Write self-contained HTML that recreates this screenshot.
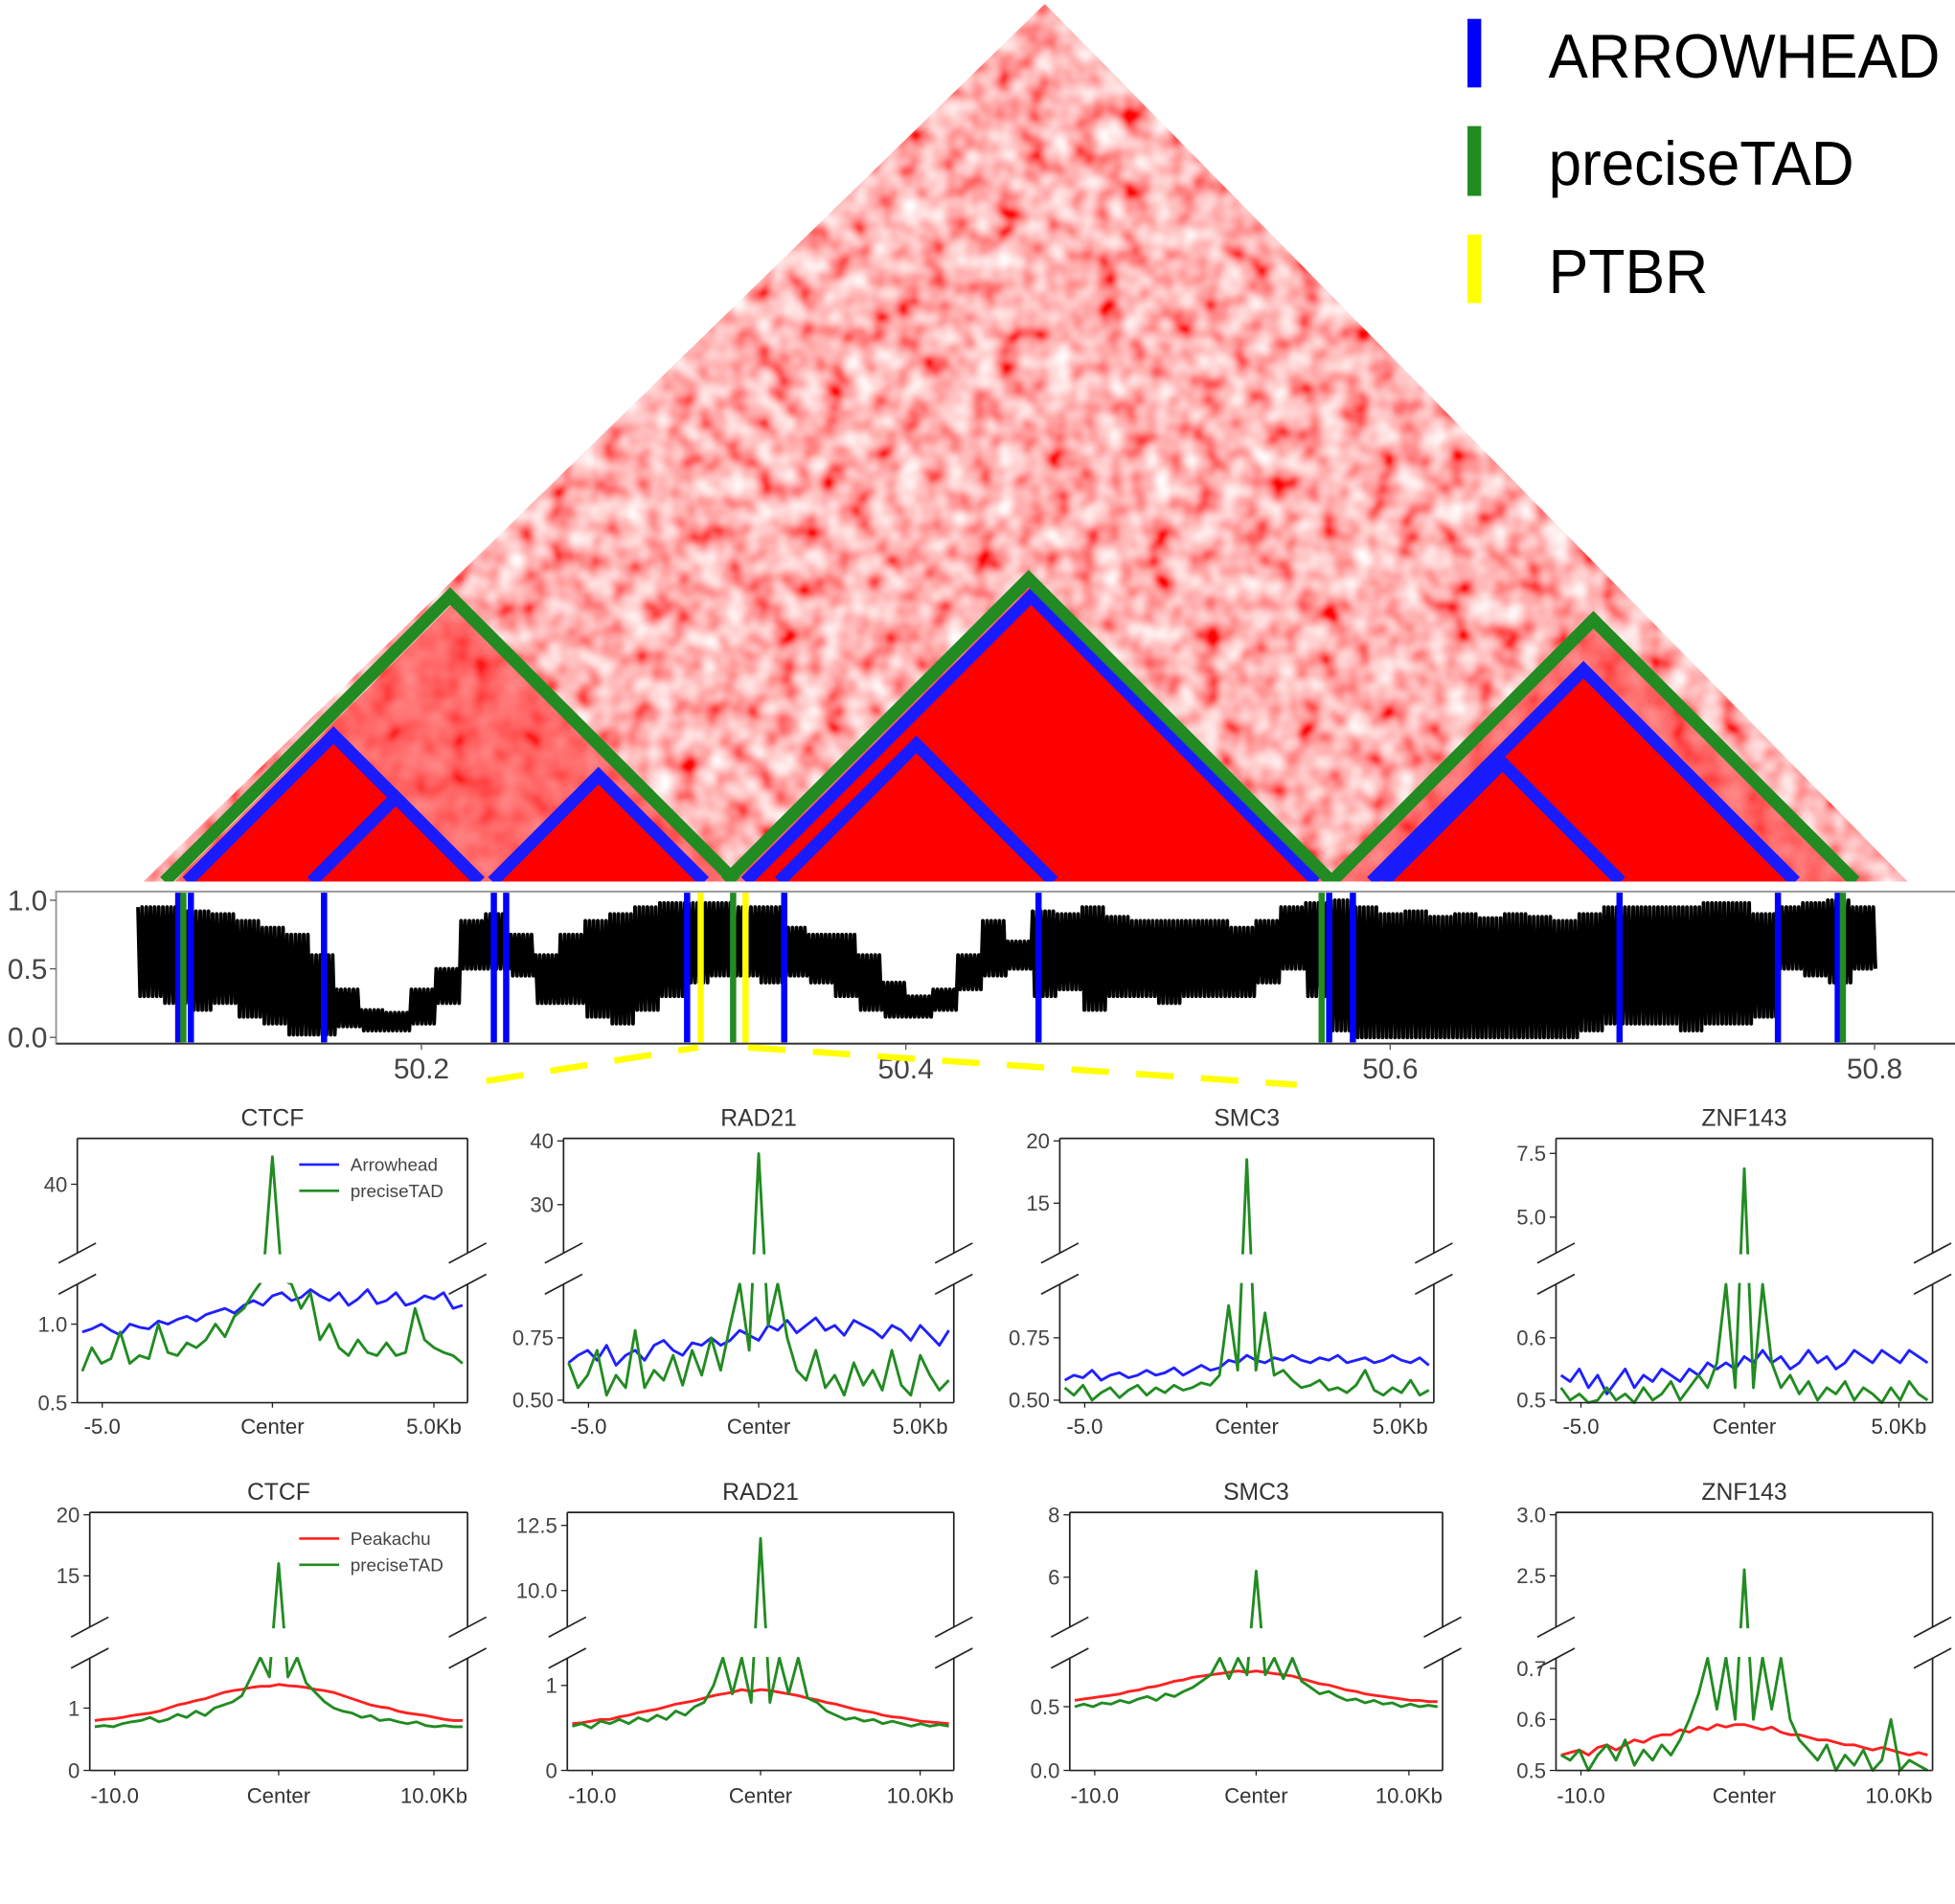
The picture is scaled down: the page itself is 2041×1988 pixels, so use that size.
<!DOCTYPE html>
<html><head><meta charset="utf-8"><style>
html,body{margin:0;padding:0;background:#fff;}
svg{display:block;font-family:"Liberation Sans","DejaVu Sans",sans-serif;}
</style></head><body>
<svg id="fig" xmlns="http://www.w3.org/2000/svg" width="2041" height="1988" viewBox="0 0 1568 1527">
<defs>
<clipPath id="triClip"><polygon points="115,707 838,3 1530,707"/></clipPath>
<filter id="noise" filterUnits="userSpaceOnUse" x="100" y="0" width="1450" height="720">
<feTurbulence type="fractalNoise" baseFrequency="0.05" numOctaves="2" seed="3" result="t"/>
<feColorMatrix in="t" type="matrix" values="0 0 0 0 1  1.5 0 0 0 -0.3  1.5 0 0 0 -0.3  0 0 0 0 1" result="c"/>
<feGaussianBlur in="c" stdDeviation="1.2"/>
</filter>
</defs>
<g id="heatmap">
<rect x="100" y="0" width="1450" height="720" filter="url(#noise)" clip-path="url(#triClip)"/>
</g>
<g id="legend">
<rect x="1177" y="15" width="11" height="55" fill="#0000ff"/>
<text x="1242" y="62" font-size="50" textLength="314" lengthAdjust="spacingAndGlyphs" fill="#000">ARROWHEAD</text>
<rect x="1177" y="101" width="11" height="56" fill="#228b22"/>
<text x="1242" y="148" font-size="50" textLength="245" lengthAdjust="spacingAndGlyphs" fill="#000">preciseTAD</text>
<rect x="1177" y="188" width="11" height="55" fill="#ffff00"/>
<text x="1242" y="235" font-size="50" textLength="128" lengthAdjust="spacingAndGlyphs" fill="#000">PTBR</text>
</g>
<g id="track"></g>
<g id="panels"></g>
</svg>
<script>
// ---- track data (genomic Mb) ----
const trackStart = 50.083;
const trackBin = 0.01026;
const sigHi = [.95,.95,.92,.9,.85,.8,.75,.6,.35,.2,.18,.35,.5,.85,.9,.75,.6,.75,.85,.9,.95,.98,.98,.98,.95,.95,.8,.75,.75,.6,.4,.3,.35,.6,.85,.7,.92,.9,.95,.88,.85,.85,.85,.85,.8,.85,.95,.98,1.0,.95,.9,.92,.88,.9,.87,.9,.88,.85,.9,.95,.95,.95,.95,.98,.98,.9,.95,.98,1.0,.95];
const sigLo = [.3,.25,.2,.25,.15,.1,.02,.02,.08,.05,.05,.1,.25,.5,.5,.45,.25,.25,.15,.1,.2,.3,.4,.45,.45,.4,.45,.4,.3,.2,.15,.15,.2,.35,.45,.5,.3,.35,.2,.3,.3,.25,.3,.3,.3,.4,.5,.3,.05,0,0,0,0,0,0,0,0,0,.05,.1,.1,.1,.05,.1,.1,.15,.5,.45,.4,.5];
const arrowheadPos = [50.0996,50.1048,50.1598,50.2299,50.2350,50.3097,50.3498,50.4548,50.5748,50.5846,50.6947,50.7601,50.7848];
const preciseTADPos = [50.1017,50.3287,50.5717,50.7869];
const ptbrPos = [50.3153,50.3338];
const trackTicks = [50.2,50.4,50.6,50.8];
const trackYTicks = [0.0,0.5,1.0];

// ---- panel data (row 1: Arrowhead vs preciseTAD, 5kb) ----
const ctcf1Arrow=[0.95,0.97,1.0,0.96,0.93,1.0,0.98,0.97,1.02,1.0,1.03,1.05,1.02,1.06,1.08,1.1,1.07,1.12,1.15,1.12,1.18,1.2,1.15,1.17,1.22,1.18,1.15,1.2,1.12,1.16,1.22,1.13,1.15,1.2,1.12,1.14,1.18,1.16,1.2,1.1,1.12];
const ctcf1Precise=[0.7,0.85,0.75,0.78,0.95,0.75,0.8,0.78,1.0,0.82,0.8,0.88,0.85,0.9,1.0,0.92,1.05,1.1,1.2,5,46,5,1.3,1.1,1.2,0.9,1.0,0.85,0.8,0.9,0.82,0.8,0.88,0.8,0.82,1.1,0.9,0.85,0.82,0.8,0.75];
const rad1Arrow=[0.65,0.68,0.7,0.66,0.72,0.64,0.68,0.7,0.66,0.72,0.74,0.7,0.68,0.73,0.72,0.75,0.72,0.74,0.78,0.76,0.74,0.8,0.78,0.82,0.77,0.8,0.83,0.78,0.8,0.76,0.82,0.8,0.78,0.75,0.8,0.78,0.74,0.8,0.76,0.72,0.78];
const rad1Precise=[0.65,0.55,0.6,0.7,0.52,0.6,0.55,0.78,0.55,0.62,0.58,0.68,0.56,0.7,0.6,0.75,0.62,0.8,1.5,0.7,38,0.8,1.5,0.75,0.62,0.58,0.7,0.55,0.6,0.52,0.65,0.56,0.62,0.54,0.7,0.56,0.52,0.68,0.6,0.54,0.58];
const smc1Arrow=[0.58,0.6,0.59,0.62,0.58,0.6,0.61,0.59,0.6,0.62,0.6,0.61,0.63,0.6,0.62,0.64,0.62,0.63,0.66,0.65,0.68,0.66,0.65,0.67,0.66,0.68,0.66,0.65,0.67,0.66,0.68,0.65,0.66,0.67,0.65,0.66,0.68,0.66,0.65,0.67,0.64];
const smc1Precise=[0.55,0.52,0.56,0.5,0.53,0.55,0.51,0.54,0.56,0.52,0.55,0.53,0.56,0.54,0.55,0.57,0.56,0.6,0.88,0.62,18.5,0.62,0.85,0.6,0.62,0.58,0.55,0.56,0.58,0.54,0.55,0.53,0.56,0.62,0.54,0.52,0.55,0.53,0.58,0.52,0.54];
const znf1Arrow=[0.54,0.53,0.55,0.52,0.54,0.51,0.53,0.55,0.52,0.54,0.53,0.55,0.54,0.53,0.55,0.54,0.56,0.55,0.56,0.55,0.57,0.56,0.58,0.56,0.57,0.55,0.56,0.58,0.56,0.57,0.55,0.56,0.58,0.57,0.56,0.58,0.57,0.56,0.58,0.57,0.56];
const znf1Precise=[0.52,0.5,0.51,0.49,0.5,0.52,0.5,0.51,0.49,0.52,0.5,0.51,0.53,0.5,0.52,0.54,0.52,0.56,0.7,0.52,6.9,0.52,0.7,0.56,0.52,0.54,0.51,0.53,0.5,0.52,0.51,0.53,0.5,0.52,0.51,0.49,0.52,0.5,0.53,0.51,0.5];
// ---- row 2: Peakachu vs preciseTAD, 10kb ----
const ctcf2Peak=[0.8,0.82,0.83,0.85,0.88,0.9,0.92,0.95,1.0,1.05,1.08,1.12,1.15,1.2,1.25,1.28,1.3,1.33,1.35,1.35,1.38,1.36,1.35,1.33,1.3,1.28,1.25,1.2,1.15,1.1,1.05,1.02,1.0,0.95,0.92,0.9,0.88,0.85,0.82,0.8,0.8];
const ctcf2Precise=[0.7,0.72,0.7,0.75,0.78,0.8,0.85,0.78,0.82,0.9,0.85,0.95,0.88,1.0,1.05,1.1,1.2,1.5,2,1.5,16,1.5,2,1.4,1.25,1.1,1.0,0.95,0.92,0.85,0.88,0.8,0.82,0.78,0.75,0.78,0.72,0.7,0.72,0.7,0.7];
const rad2Peak=[0.55,0.56,0.58,0.6,0.6,0.63,0.65,0.68,0.7,0.72,0.75,0.78,0.8,0.82,0.85,0.88,0.9,0.92,0.95,0.93,0.95,0.94,0.92,0.9,0.88,0.85,0.83,0.8,0.78,0.75,0.72,0.7,0.68,0.65,0.63,0.62,0.6,0.58,0.57,0.56,0.55];
const rad2Precise=[0.52,0.55,0.5,0.58,0.55,0.6,0.55,0.62,0.58,0.65,0.6,0.7,0.65,0.75,0.8,1.0,1.4,0.9,1.4,0.8,12,0.8,1.4,0.9,1.4,0.85,0.8,0.7,0.65,0.6,0.62,0.58,0.6,0.55,0.58,0.55,0.52,0.55,0.52,0.54,0.52];
const smc2Peak=[0.55,0.56,0.57,0.58,0.59,0.6,0.62,0.63,0.65,0.66,0.68,0.7,0.71,0.73,0.74,0.75,0.76,0.77,0.78,0.77,0.78,0.77,0.76,0.75,0.74,0.72,0.7,0.68,0.67,0.65,0.63,0.62,0.6,0.59,0.58,0.57,0.56,0.55,0.55,0.54,0.54];
const smc2Precise=[0.5,0.52,0.5,0.53,0.52,0.55,0.53,0.56,0.58,0.55,0.6,0.58,0.62,0.65,0.7,0.75,0.9,0.72,0.9,0.75,6.2,0.75,0.9,0.72,0.9,0.7,0.65,0.6,0.62,0.58,0.55,0.56,0.53,0.55,0.52,0.53,0.5,0.52,0.5,0.51,0.5];
const znf2Peak=[0.53,0.535,0.54,0.53,0.545,0.55,0.54,0.55,0.56,0.555,0.565,0.57,0.57,0.58,0.575,0.585,0.58,0.59,0.585,0.59,0.59,0.585,0.58,0.585,0.575,0.57,0.57,0.565,0.56,0.56,0.555,0.55,0.55,0.545,0.54,0.545,0.54,0.535,0.53,0.535,0.53];
const znf2Precise=[0.53,0.52,0.54,0.5,0.53,0.55,0.52,0.56,0.51,0.54,0.52,0.55,0.53,0.56,0.6,0.65,0.72,0.62,0.75,0.6,2.55,0.6,0.75,0.62,0.72,0.6,0.56,0.54,0.52,0.55,0.5,0.53,0.51,0.54,0.5,0.52,0.6,0.5,0.52,0.51,0.5];
const row1XLabels=["-5.0","Center","5.0Kb"];
const row2XLabels=["-10.0","Center","10.0Kb"];

const NS="http://www.w3.org/2000/svg";
function mk(tag,parent,attrs){const e=document.createElementNS(NS,tag);for(const k in attrs)e.setAttribute(k,attrs[k]);parent.appendChild(e);return e;}

// ---- heatmap TAD shapes ----
const hm=document.getElementById('heatmap');
function tri(x1,x2){const b=707,h=(x2-x1)/2;return `${x1},${b} ${(x1+x2)/2},${b-h} ${x2},${b}`;}
[[140,590,'#ff2a2a'],[582,1068,'#ff2020'],[1068,1490,'#ff3030']].forEach(t=>{
  const p=mk('polygon',hm,{points:tri(t[0],t[1]),fill:t[2],opacity:'0.55'});
  
  
});
[[150,385],[395,565],[625,845],[600,1058],[1100,1440]].forEach(t=>{
  const p=mk('polygon',hm,{points:tri(t[0],t[1]),fill:'#ff0000'});
  
  
});
const blueT=[[150,385],[250,385],[395,565],[625,845],[598,1056],[1100,1440],[1110,1300]];
blueT.forEach(t=>{
  const p=mk('polyline',hm,{points:tri(t[0],t[1]),fill:'none',stroke:'#1a1aff','stroke-width':'10'});
  
  
});
[[132,590],[582,1068],[1068,1488]].forEach(t=>{
  const p=mk('polyline',hm,{points:tri(t[0],t[1]),fill:'none',stroke:'#228b22','stroke-width':'10'});
  
  
});
mk('rect',hm,{x:100,y:707,width:1450,height:8,fill:'#fff'});

// ---- track ----
const tr=document.getElementById('track');
const TX0=50.2,TPX0=338,TPPM=1942.5;
const tx=g=>TPX0+(g-TX0)*TPPM;
const ty=v=>832-v*110;
let fr=mk('rect',tr,{x:45,y:715,width:1530,height:122,fill:'#fff',stroke:'#999','stroke-width':'1.5'});

mk('line',tr,{x1:45,y1:837,x2:1568,y2:837,stroke:'#333','stroke-width':'1.5'});
trackYTicks.forEach(v=>{
  mk('line',tr,{x1:40,y1:ty(v),x2:45,y2:ty(v),stroke:'#555'});
  const t=mk('text',tr,{x:38,y:ty(v)+8,'font-size':'23','text-anchor':'end',fill:'#444'});t.textContent=v.toFixed(1);
  
});
trackTicks.forEach(v=>{
  mk('line',tr,{x1:tx(v),y1:837,x2:tx(v),y2:842,stroke:'#555'});
  const t=mk('text',tr,{x:tx(v),y:865,'font-size':'23','text-anchor':'middle',fill:'#444'});t.textContent=v.toFixed(1);
  
});
let pts=[];
const SUB=12;
for(let i=0;i<sigHi.length;i++){
  const g0=trackStart+i*trackBin;
  for(let k=0;k<SUB;k++){
    const g=g0+trackBin*k/SUB;
    const v=(k%2===0)?sigHi[i]:sigLo[i];
    pts.push(tx(g).toFixed(1)+','+ty(v).toFixed(1));
  }
}
let sig=mk('polyline',tr,{points:pts.join(' '),fill:'none',stroke:'#000','stroke-width':'3','stroke-linejoin':'round'});

function vlines(arr,col,name){arr.forEach(g=>{const l=mk('line',tr,{x1:tx(g),y1:716,x2:tx(g),y2:836,stroke:col,'stroke-width':'5'});
  });}
vlines(arrowheadPos,'#0000ff','arrowhead-boundary');
vlines(preciseTADPos,'#228b22','precisetad-boundary');
vlines(ptbrPos,'#ffff00','ptbr-boundary');
let d1=mk('line',tr,{x1:390,y1:867,x2:560,y2:840,stroke:'#ffff00','stroke-width':'5','stroke-dasharray':'30,22'});

let d2=mk('line',tr,{x1:600,y1:840,x2:1040,y2:870,stroke:'#ffff00','stroke-width':'5','stroke-dasharray':'30,22'});


// ---- panels ----
const pg=document.getElementById('panels');
const R1={top0:913,top1:1005,bot0:1030,bot1:1125,ty:903,ly:1150,xl:row1XLabels};
const R2={top0:1213,top1:1305,bot0:1330,bot1:1420,ty:1203,ly:1446,xl:row2XLabels};
const panels=[
 {r:R1,x0:62,x1:375,title:'CTCF',tr:[25,50],br:[0.5,1.254],tt:[40],bt:[0.5,1.0],tf:0,bf:1,s:[ctcf1Arrow,ctcf1Precise],c:['#2020ff','#228b22'],leg:['Arrowhead','preciseTAD']},
 {r:R1,x0:452,x1:765,title:'RAD21',tr:[22.4,40.4],br:[0.49,0.965],tt:[30,40],bt:[0.5,0.75],tf:0,bf:2,s:[rad1Arrow,rad1Precise],c:['#2020ff','#228b22']},
 {r:R1,x0:850,x1:1150,title:'SMC3',tr:[11,20.2],br:[0.49,0.965],tt:[15,20],bt:[0.5,0.75],tf:0,bf:2,s:[smc1Arrow,smc1Precise],c:['#2020ff','#228b22']},
 {r:R1,x0:1248,x1:1550,title:'ZNF143',tr:[3.59,8.09],br:[0.496,0.686],tt:[5,7.5],bt:[0.5,0.6],tf:1,bf:1,s:[znf1Arrow,znf1Precise],c:['#2020ff','#228b22']},
 {r:R2,x0:72,x1:375,title:'CTCF',tr:[10.8,20.2],br:[0,1.8],tt:[15,20],bt:[0,1],tf:0,bf:0,s:[ctcf2Peak,ctcf2Precise],c:['#ff2020','#228b22'],leg:['Peakachu','preciseTAD']},
 {r:R2,x0:455,x1:765,title:'RAD21',tr:[8.6,13],br:[0,1.32],tt:[10,12.5],bt:[0,1],tf:1,bf:0,s:[rad2Peak,rad2Precise],c:['#ff2020','#228b22']},
 {r:R2,x0:858,x1:1157,title:'SMC3',tr:[4.4,8.08],br:[0,0.88],tt:[6,8],bt:[0,0.5],tf:0,bf:1,s:[smc2Peak,smc2Precise],c:['#ff2020','#228b22']},
 {r:R2,x0:1248,x1:1550,title:'ZNF143',tr:[2.08,3.02],br:[0.5,0.72],tt:[2.5,3],bt:[0.5,0.6,0.7],tf:1,bf:1,s:[znf2Peak,znf2Precise],c:['#ff2020','#228b22']}
];
panels.forEach((p,pi)=>{
  const R=p.r,g=mk('g',pg,{});
  
  
  const Y=v=>{
    if(v>=p.tr[0]){v=Math.min(v,p.tr[1]);return R.top1-(v-p.tr[0])/(p.tr[1]-p.tr[0])*(R.top1-R.top0);}
    if(v<=p.br[1]){v=Math.max(v,p.br[0]);return R.bot1-(v-p.br[0])/(p.br[1]-p.br[0])*(R.bot1-R.bot0);}
    return R.bot0-(v-p.br[1])/(p.tr[0]-p.br[1])*(R.bot0-R.top1);
  };
  const X=(i,n)=>p.x0+4+i/(n-1)*(p.x1-p.x0-8);
  p.s.forEach((arr,si)=>{
    const pp=arr.map((v,i)=>X(i,arr.length).toFixed(1)+','+Y(v).toFixed(1)).join(' ');
    const l=mk('polyline',g,{points:pp,fill:'none',stroke:p.c[si],'stroke-width':'2.2','stroke-linejoin':'round'});
    
    
  });
  mk('rect',g,{x:p.x0-2,y:R.top1+1,width:p.x1-p.x0+4,height:R.bot0-R.top1-2,fill:'#fff'});
  const sp={stroke:'#222','stroke-width':'1.3'};
  mk('line',g,Object.assign({x1:p.x0,y1:R.top0,x2:p.x1,y2:R.top0},sp));
  mk('line',g,Object.assign({x1:p.x0,y1:R.bot1,x2:p.x1,y2:R.bot1},sp));
  [p.x0,p.x1].forEach(x=>{
    mk('line',g,Object.assign({x1:x,y1:R.top0,x2:x,y2:R.top1},sp));
    mk('line',g,Object.assign({x1:x,y1:R.bot0,x2:x,y2:R.bot1},sp));
    [R.top1,R.bot0].forEach(y=>{const b=mk('line',g,Object.assign({x1:x-15,y1:y+8,x2:x+15,y2:y-8},sp));
      });
  });
  p.tt.forEach(v=>{const y=Y(v);mk('line',g,{x1:p.x0-5,y1:y,x2:p.x0,y2:y,stroke:'#222'});
    const t=mk('text',g,{x:p.x0-8,y:y+6,'font-size':'17','text-anchor':'end',fill:'#444'});t.textContent=v.toFixed(p.tf);
    });
  p.bt.forEach(v=>{const y=Y(v);mk('line',g,{x1:p.x0-5,y1:y,x2:p.x0,y2:y,stroke:'#222'});
    const t=mk('text',g,{x:p.x0-8,y:y+6,'font-size':'17','text-anchor':'end',fill:'#444'});t.textContent=v.toFixed(p.bf);
    });
  const tt=mk('text',g,{x:(p.x0+p.x1)/2,y:R.ty,'font-size':'19','text-anchor':'middle',fill:'#333'});tt.textContent=p.title;
  
  const lx=[p.x0+20,(p.x0+p.x1)/2,p.x1-27];
  R.xl.forEach((s,i)=>{mk('line',g,{x1:lx[i],y1:R.bot1,x2:lx[i],y2:R.bot1+4,stroke:'#222'});
    const t=mk('text',g,{x:lx[i],y:R.ly,'font-size':'17','text-anchor':'middle',fill:'#333'});t.textContent=s;
    });
  if(p.leg){const ly0=R.top0+21;
    p.leg.forEach((s,i)=>{const y=ly0+i*21;
      const l=mk('line',g,{x1:p.x1-135,y1:y,x2:p.x1-103,y2:y,stroke:p.c[i],'stroke-width':'2'});
      
      const t=mk('text',g,{x:p.x1-94,y:y+5,'font-size':'14.5',fill:'#444'});t.textContent=s;
      });}
});
</script>
</body></html>
